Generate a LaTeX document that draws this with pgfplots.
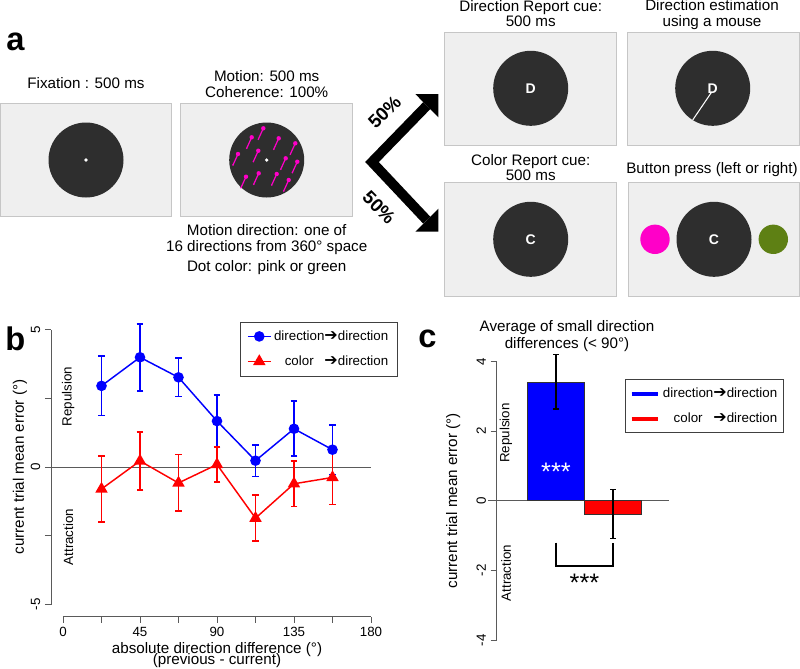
\documentclass[border=0pt]{standalone}
\usepackage{fontspec}
\setmainfont{Liberation Sans}
\newfontfamily\djv{DejaVu Sans}
\usepackage{pgfplots}
\pgfplotsset{compat=1.18}
\usetikzlibrary{arrows.meta}
\definecolor{boxfill}{HTML}{EFEFEF}
\definecolor{boxdraw}{HTML}{C6C6C6}
\definecolor{disk}{HTML}{2E2E2E}
\definecolor{pinkc}{HTML}{FF00C8}
\definecolor{greenc}{HTML}{5E8014}
\definecolor{axgray}{HTML}{5A5A5A}
\newcommand\fa{\fontsize{11.4pt}{13pt}\selectfont}
\newcommand\fb{\fontsize{10pt}{12pt}\selectfont}
\newcommand\fbig{\fontsize{24.5pt}{26pt}\selectfont\bfseries}
\newcommand\colorw{{\setbox0=\hbox{direction}\hbox to\wd0{\hss color\hss}}}
\newcommand\arr{{\djv\fontsize{12pt}{12pt}\selectfont ➔}}

\begin{document}
\begin{tikzpicture}
\useasboundingbox (0,0) rectangle (600pt,-501pt);
\begin{scope}[x=0.75pt,y=-0.75pt]
 % ---------- panel a ----------
 \foreach \xa/\ya/\xb/\yb in {0.7/103.3/171.7/216.7, 180.7/103.3/352.3/216.7, 444.3/32.3/616.7/145.7, 627.3/32.3/799/145.7, 444.3/182.7/616.7/296, 628.3/182.7/799/296}
   \draw[boxdraw, fill=boxfill, line width=0.75pt] (\xa,\ya) rectangle (\xb,\yb);
 \foreach \cx/\cy in {86/160, 266.7/160, 530.7/88.3, 712.7/88.3, 530.7/239.3, 714/239.3}
   \fill[disk] (\cx,\cy) circle[radius=37.5];
 \fill[white] (86,160) circle[radius=1.8];
 \fill[white] (266.7,160) circle[radius=1.8];
 \foreach \hx/\hy in {263.3/128.3, 251.7/137.3, 278.7/138.3, 295.3/143.3, 258.3/150.7, 238/154, 285.7/158.3, 297.3/161.7, 246/176.7, 258.7/173.3, 276.7/174, 288.7/180}
  {\draw[pinkc, line width=0.9pt] (\hx,\hy) -- ++(-5,11);
   \fill[pinkc] (\hx,\hy) circle[radius=2.2];
   \fill[pinkc] (\hx,\hy) ++(-5,11) circle[radius=0.8];}
 \node[text=white, font=\fontsize{10.5pt}{12pt}\selectfont\bfseries] at (530.7,88.3) {D};
 \node[text=white, font=\fontsize{10.5pt}{12pt}\selectfont\bfseries] at (712.7,88.3) {D};
 \draw[white, line width=0.8pt] (711.7,92) -- (692.7,120);
 \node[text=white, font=\fontsize{10.5pt}{12pt}\selectfont\bfseries] at (530.7,239.3) {C};
 \node[text=white, font=\fontsize{10.5pt}{12pt}\selectfont\bfseries] at (714,239.3) {C};
 \fill[pinkc] (655,239.3) circle[radius=14.7];
 \fill[greenc] (773.3,239.3) circle[radius=14.7];
 % arrows
 \draw[line width=7.4pt, line join=miter] (426.8,105.6) -- (372,162) -- (426.8,220.2);
 \fill (438.3,94) -- (415.3,94) -- (438.3,117.3) -- cycle;
 \fill (438.3,231.7) -- (415.3,231.7) -- (438.3,208.7) -- cycle;
 \node[rotate=45, inner sep=0pt, font=\fontsize{14pt}{16pt}\selectfont\bfseries] at (384.5,112) {50\%};
 \node[rotate=-45, inner sep=0pt, font=\fontsize{14pt}{16pt}\selectfont\bfseries] at (379,207.5) {50\%};
 % texts
 \node[anchor=base, font=\fa] at (86,88.3) {Fixation : 500 ms};
 \node[anchor=base, font=\fa] at (266.7,81.7) {Motion: 500 ms};
 \node[anchor=base, font=\fa] at (266.7,97.3) {Coherence: 100\%};
 \node[anchor=base, font=\fa] at (266.7,235) {Motion direction: one of};
 \node[anchor=base, font=\fa] at (266.7,251.7) {16 directions from 360° space};
 \node[anchor=base, font=\fa] at (266.7,271.7) {Dot color: pink or green};
 \node[anchor=base, font=\fa] at (530.7,11.7) {Direction Report cue:};
 \node[anchor=base, font=\fa] at (530.7,26.7) {500 ms};
 \node[anchor=base, font=\fa] at (712,10.7) {Direction estimation};
 \node[anchor=base, font=\fa] at (712,26) {using a mouse};
 \node[anchor=base, font=\fa] at (530.7,165) {Color Report cue:};
 \node[anchor=base, font=\fa] at (530.7,180) {500 ms};
 \node[anchor=base, font=\fa] at (712,173.3) {Button press (left or right)};
 % panel letters
 \node[anchor=base west, inner sep=0pt, font=\fbig] at (6,50) {a};
 \node[anchor=base west, inner sep=0pt, font=\fbig] at (5,350) {b};
 \node[anchor=base west, inner sep=0pt, font=\fbig] at (418,347.3) {c};
 % panel b labels
 \node[rotate=90, font=\fa] at (20,467) {current trial mean error (°)};
 \node[anchor=base, font=\fa] at (217,653.3) {absolute direction difference (°)};
 \node[anchor=base, font=\fa] at (217,664.5) {(previous - current)};
 \node[rotate=90, font=\fb] at (68.3,396.7) {Repulsion};
 \node[rotate=90, font=\fb] at (68.3,537) {Attraction};
 % panel c labels
 \node[rotate=90, font=\fa] at (453.3,500.7) {current trial mean error (°)};
 \node[anchor=base, font=\fa] at (567,331) {Average of small direction};
 \node[anchor=base, font=\fa] at (567,348) {differences (< 90°)};
 \node[rotate=90, font=\fb] at (506,433) {Repulsion};
 \node[rotate=90, font=\fb] at (506,573) {Attraction};
\end{scope}

% ---------- panel b ----------
\begin{axis}[
  at={(47.25pt,-453.375pt)}, anchor=south west,
  scale only axis, width=231pt, height=206.25pt,
  xmin=0, xmax=180, ymin=-5, ymax=5,
  axis x line*=bottom, axis y line*=left,
  axis x line shift=9pt, axis y line shift=9pt,
  axis line style={draw=axgray, line width=0.6pt, -},
  tick align=outside, major tick length=4.5pt,
  tick style={axgray, line width=0.6pt},
  xtick={0,22.5,...,180}, xticklabels={0,,45,,90,,135,,180},
  ytick={-5,-2.5,0,2.5,5}, yticklabels={-5,,0,,5},
  yticklabel style={rotate=90, anchor=south},
  ticklabel style={font=\fb, text=black},
  clip=false,
  legend cell align=left,
  legend style={at={(rel axis cs:1.0877,1.029)}, anchor=north east, draw=black!75, line width=0.6pt, font=\fb, row sep=6pt, inner xsep=5pt, inner ysep=4.5pt},
]
\draw[axgray, line width=0.6pt] (axis cs:-7,0) -- (axis cs:180,0);
\addplot[blue, line width=1.1pt, mark=*, mark size=3.4pt,
  error bars/.cd, y dir=both, y explicit,
  error bar style={line width=1.3pt, blue},
  error mark options={rotate=90, blue, mark size=2.6pt, line width=1.3pt}]
  coordinates {(22.5,2.95) +- (0,1.08) (45,3.99) +- (0,1.22) (67.5,3.26) +- (0,0.70) (90,1.67) +- (0,0.95) (112.5,0.23) +- (0,0.58) (135,1.39) +- (0,1.0) (157.5,0.63) +- (0,0.90)};
\addlegendentry{direction\arr direction}
\addplot[red, line width=1.1pt, mark=triangle*, mark size=4.3pt,
  error bars/.cd, y dir=both, y explicit,
  error bar style={line width=1.3pt, red},
  error mark options={rotate=90, red, mark size=2.6pt, line width=1.3pt}]
  coordinates {(22.5,-0.80) +- (0,1.2) (45,0.22) +- (0,1.05) (67.5,-0.58) +- (0,1.03) (90,0.09) +- (0,0.64) (112.5,-1.86) +- (0,0.83) (135,-0.61) +- (0,0.83) (157.5,-0.38) +- (0,0.98)};
\addlegendentry{\colorw\arr direction}
\end{axis}

% ---------- panel c ----------
\begin{axis}[
  at={(372.525pt,-480.075pt)}, anchor=south west,
  scale only axis, width=129.45pt, height=209.1pt,
  xmin=-0.0404, xmax=2.988, ymin=-4, ymax=4,
  axis y line*=left, axis x line=none,
  axis line style={draw=axgray, line width=0.6pt, -},
  tick align=outside, major tick length=4.5pt,
  tick style={axgray, line width=0.6pt},
  ytick={-4,-2,0,2,4}, yticklabels={-4,-2,0,2,4},
  yticklabel style={rotate=90, anchor=south},
  ticklabel style={font=\fb, text=black},
  ybar, bar width=42.75pt, bar shift=0pt,
  clip=false,
  legend cell align=left,
  legend style={at={(rel axis cs:1.666,0.9355)}, anchor=north east, draw=black!75, line width=0.6pt, font=\fb, row sep=6pt, inner xsep=3pt, inner ysep=4pt},
]
\draw[axgray, line width=0.6pt] (axis cs:-0.193,0) -- (axis cs:2.988,0);
\addplot[fill=blue, draw=black!80, line width=0.5pt,
  legend image code/.code={\draw[blue, line width=3pt] (0pt,0pt) -- (20pt,0pt);},
  error bars/.cd, y dir=both, y explicit,
  error bar style={black, line width=0.9pt},
  error mark options={rotate=90, black, mark size=2.2pt, line width=0.9pt}]
  coordinates {(1,3.41) +- (0,0.78)};
\addlegendentry{direction\arr direction}
\addplot[fill=red, draw=black!80, line width=0.5pt,
  legend image code/.code={\draw[red, line width=3pt] (0pt,0pt) -- (20pt,0pt);},
  error bars/.cd, y dir=both, y explicit,
  error bar style={black, line width=0.9pt},
  error mark options={rotate=90, black, mark size=2.2pt, line width=0.9pt}]
  coordinates {(2,-0.38) +- (0,0.70)};
\addlegendentry{\colorw\arr direction}
\draw[black, line width=1pt] (axis cs:1,-1.2) -- (axis cs:1,-1.87) -- (axis cs:2,-1.87) -- (axis cs:2,-1.2);
\node[anchor=base, font=\fontsize{19pt}{20pt}\selectfont] at (axis cs:1.5,-2.6) {***};
\node[anchor=base, text=white, font=\fontsize{19pt}{20pt}\selectfont] at (axis cs:1,0.57) {***};
\end{axis}
\end{tikzpicture}
\end{document}
